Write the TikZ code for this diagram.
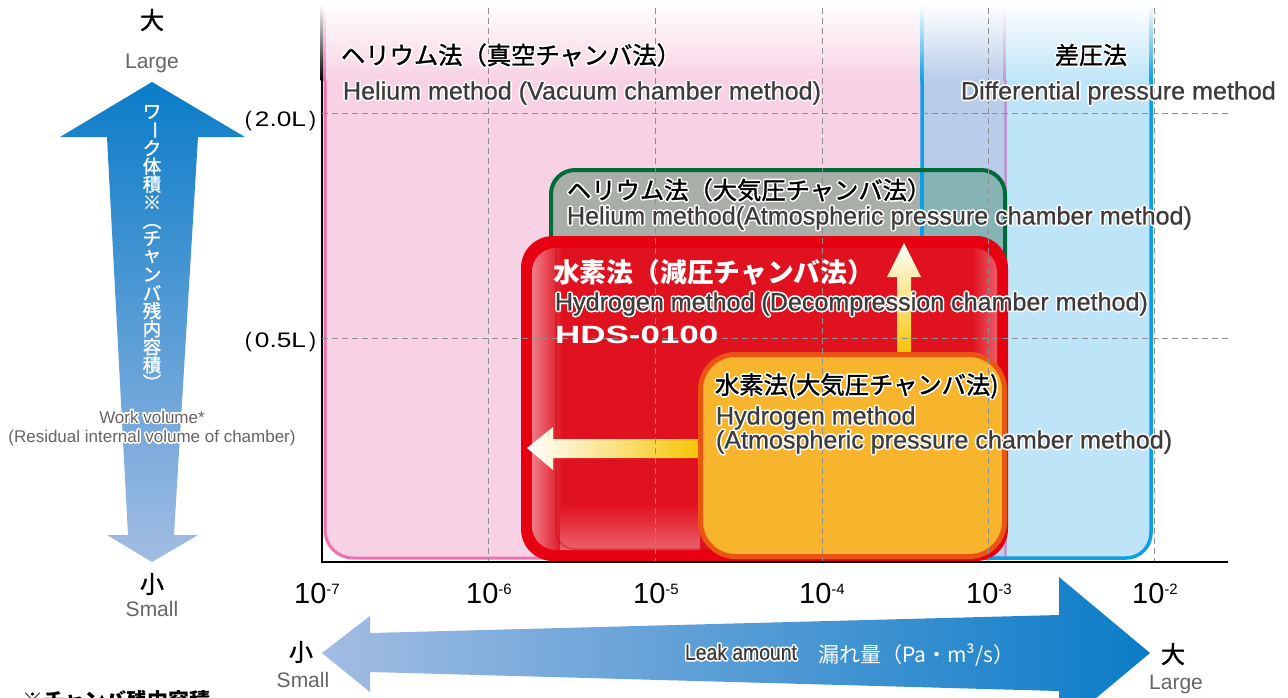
\documentclass[tikz,border=0pt]{standalone}
\usepackage{fontspec}
\usepackage{graphicx}
\setmainfont{Liberation Sans}
\newfontfamily\jp{Noto Sans CJK JP}
\newfontfamily\jpm{Noto Sans CJK JP}[FakeBold=1.4]
\newfontfamily\enm{Liberation Sans}[FakeBold=0.7]
\definecolor{pinkfill}{HTML}{F8D2E4}
\definecolor{pinkline}{HTML}{EF70AF}
\definecolor{bluefill}{HTML}{BEE5F7}
\definecolor{blueline}{HTML}{0AA0E6}
\definecolor{lavender}{HTML}{B9CDEA}
\definecolor{purpleline}{HTML}{BB9ACF}
\definecolor{greenline}{HTML}{006B3A}
\definecolor{greenfill}{HTML}{A9AEA9}
\definecolor{tealfill}{HTML}{86B3B4}
\definecolor{redborder}{HTML}{E60012}
\definecolor{redin}{HTML}{E0121F}
\definecolor{redglow}{HTML}{EF7C86}
\definecolor{reddark}{HTML}{B5101C}
\definecolor{orangeline}{HTML}{EA5514}
\definecolor{orangefill}{HTML}{F7B52D}
\definecolor{arrowyellow}{HTML}{F6C300}
\definecolor{arrowcream}{HTML}{FCEBB8}
\definecolor{tgray}{HTML}{3E3A39}
\definecolor{lgray}{HTML}{666464}
\definecolor{gridgray}{HTML}{8F8F8F}
\definecolor{arrdark}{HTML}{0A7CC8}
\definecolor{arrmid}{HTML}{3D9AD7}
\definecolor{arrlight}{HTML}{A3BCE3}
\newcommand\fs[1]{\fontsize{#1}{#1}\selectfont}
\newcommand\outl[1]{\leavevmode\rlap{\color{white}%
\rlap{\hspace*{1.6pt}#1}\rlap{\hspace*{-1.6pt}#1}%
\rlap{\raisebox{1.6pt}{#1}}\rlap{\raisebox{-1.6pt}{#1}}%
\rlap{\hspace*{1.15pt}\raisebox{1.15pt}{#1}}\rlap{\hspace*{-1.15pt}\raisebox{1.15pt}{#1}}%
\rlap{\hspace*{1.15pt}\raisebox{-1.15pt}{#1}}\rlap{\hspace*{-1.15pt}\raisebox{-1.15pt}{#1}}}#1}
\newcommand\vrot[1]{\rotatebox[origin=c]{-90}{#1}}
\newcommand\wide[1]{\scalebox{1.25}[1]{#1}}
\tikzset{
  lbl/.style={inner sep=0pt, outer sep=0pt},
  gridline/.style={gridgray, line width=1pt, dash pattern=on 6pt off 4pt},
  jtitle/.style={lbl, anchor=west, font=\jpm\fs{24.3}, text=black},
  entitle/.style={lbl, anchor=west, font=\enm\fs{25.1}, text=tgray},
  tick/.style={lbl, anchor=base, font=\fs{29}, text=black},
  ylab/.style={lbl, anchor=east, font=\fs{21}, text=black},
  vch/.style={lbl, font=\jpm\fs{18.5}, text=white},
}
\begin{document}
\begin{tikzpicture}[x=1pt,y=-1pt]
\useasboundingbox (0,0) rectangle (1288,697);
% ---- method regions
\fill[pinkfill, rounded corners=28] (325,-40) rectangle (1005,558);
\fill[bluefill, rounded corners=25] (922,-40) rectangle (1151,558);
\fill[lavender] (922,-40) rectangle (1005,558);
\draw[pinkline, line width=3, rounded corners=28] (325,-40) -- (325,558) -- (1005,558);
\draw[purpleline, line width=3] (1005,-40) -- (1005,558);
\draw[blueline, line width=3.5, rounded corners=25] (922,-40) -- (922,558) -- (1151,558) -- (1151,-40);
\draw[line width=2.5] (322,-5) -- (322,563);
% top fade to white
\foreach \xa/\xb/\col in {320.6/323.4/black, 323.4/326.6/pinkline, 326.6/920.2/pinkfill,
    920.2/923.8/blueline, 923.8/1003.5/lavender, 1003.5/1006.5/purpleline,
    1006.5/1149.2/bluefill, 1149.2/1152.8/blueline}
  \shade[top color=white, bottom color=\col] (\xa,4) rectangle (\xb,80);
\fill[white] (318,-2) rectangle (1156,4);
% ---- helium atmospheric (green)
\begin{scope}
  \clip[rounded corners=24] (551,170) rectangle (1005,420);
  \fill[greenfill] (551,170) rectangle (1005,420);
  \fill[tealfill] (922,170) rectangle (1005,420);
  \draw[blueline, line width=3.5] (922,170) -- (922,420);
\end{scope}
\draw[greenline, line width=4, rounded corners=24] (551,170) rectangle (1005,420);
% ---- hydrogen decompression (red)
\fill[redborder, rounded corners=32] (521,236) rectangle (1008,561);
\begin{scope}
  \clip[rounded corners=24] (532,248) rectangle (997,550);
  \fill[redin] (532,248) rectangle (997,550);
  \shade[left color=redglow, right color=redin] (532,248) rectangle (562,550);
  \shade[left color=redin, right color=redglow!70!redin] (972,248) rectangle (997,550);
  \shade[top color=redin, bottom color=redglow!75!redin] (560,505) rectangle (700,550);
  \draw[reddark, line width=1.5, opacity=.45, rounded corners=18] (556,230) -- (556,549) -- (1000,549);
\end{scope}
% ---- white/yellow arrows
\shade[left color=white, middle color=arrowcream, right color=arrowyellow]
  (527,448) -- (553,427) -- (553,439) -- (703,439) -- (703,458) -- (553,458) -- (553,470) -- cycle;
\shade[top color=white, middle color=arrowcream, bottom color=arrowyellow]
  (904,243) -- (921,277) -- (911,277) -- (911,356) -- (897,356) -- (897,277) -- (887,277) -- cycle;
% ---- hydrogen atmospheric (orange)
\draw[orangeline, fill=orangefill, line width=5, rounded corners=35] (700.5,354.5) rectangle (1004.5,556.5);
% ---- grid
\foreach \gx in {488,655,822,988,1154} \draw[gridline] (\gx,8) -- (\gx,561);
\draw[gridline] (322,113) -- (1228,113);
\draw[gridline] (322,338) -- (1228,338);
\draw[line width=2.5] (321,562) -- (1228,562);
% ---- region texts
\node[jtitle] (tvac) at (341,55) {\outl{ヘリウム法（真空チャンバ法）}};
\node[entitle] (evac) at (343,93) {\outl{Helium method (Vacuum chamber method)}};
\node[lbl, font=\jpm\fs{24}] (tdiff) at (1091,55) {\outl{差圧法}};
\node[entitle] (ediff) at (961,93) {\outl{Differential pressure method}};
\node[jtitle] (tgreen) at (567,190) {\outl{ヘリウム法（大気圧チャンバ法）}};
\node[entitle] (egreen) at (567,218) {\outl{Helium method(Atmospheric pressure chamber method)}};
\node[lbl, anchor=west, font=\jp\bfseries\fs{26.8}, text=white] (tred) at (553,272) {水素法（減圧チャンバ法）};
\node[entitle] (ered) at (555,304) {\outl{Hydrogen method (Decompression chamber method)}};
\node[lbl, anchor=west, font=\bfseries\fs{25}, text=white] (hds) at (555,335) {\scalebox{1.4}[1]{HDS-0100}};
\node[jtitle] (torange) at (715,386) {\outl{水素法(大気圧チャンバ法)}};
\node[entitle] (eorange1) at (716,418) {\outl{Hydrogen method}};
\node[entitle] (eorange2) at (716,442) {\outl{(Atmospheric pressure chamber method)}};
% ---- axis labels
\node[ylab] (y20) at (316,121) {(\hspace{3pt}\wide{2.0L}\hspace{3pt})};
\node[ylab] (y05) at (316,342) {(\hspace{3pt}\wide{0.5L}\hspace{3pt})};
\node[tick] (x7) at (317,603) {10\raisebox{9pt}{\fs{15}-7}};
\node[tick] (x6) at (489,603) {10\raisebox{9pt}{\fs{15}-6}};
\node[tick] (x5) at (656,603) {10\raisebox{9pt}{\fs{15}-5}};
\node[tick] (x4) at (822,603) {10\raisebox{9pt}{\fs{15}-4}};
\node[tick] (x3) at (989,603) {10\raisebox{9pt}{\fs{15}-3}};
\node[tick] (x2) at (1155,603) {10\raisebox{9pt}{\fs{15}-2}};
% ---- vertical arrow (work volume)
\shade[top color=arrdark, middle color=arrmid, bottom color=arrlight]
  (152,82) -- (245,137) -- (198,137) -- (174,535) -- (198,535) -- (152,562)
  -- (107,535) -- (128,535) -- (107,137) -- (60,137) -- cycle;
\foreach \c [count=\i] in {ワ,\vrot{ー},ク,体,積,※,\vrot{（},チ,ャ,ン,バ,残,内,容,積,\vrot{）}}
  \node[vch] (v\i) at (152,{93.9+18.07*\i}) {\c};
\node[lbl, font=\fs{17}, text=lgray] (wv1) at (152,417) {\outl{Work volume*}};
\node[lbl, font=\fs{17}, text=lgray] (wv2) at (152,438) {\outl{(Residual internal volume of chamber)}};
\node[lbl, font=\jpm\fs{24}] (vbig) at (152,20) {大};
\node[lbl, font=\fs{21}, text=lgray] (vlarge) at (152,63) {Large};
\node[lbl, font=\jpm\fs{24}] (vsmall) at (152,584) {小};
\node[lbl, font=\fs{21}, text=lgray] (vsmalle) at (152,609) {Small};
% ---- horizontal arrow (leak amount)
\shade[left color=arrlight, middle color=arrmid!80!arrlight, right color=arrdark]
  (322,653) -- (370,616) -- (370,633) -- (1059,615) -- (1059,577) -- (1150,653)
  -- (1059,729) -- (1059,691) -- (370,672) -- (370,692) -- cycle;
\node[lbl, anchor=west, text=tgray] (leak) at (685,652) {\outl{\scalebox{0.88}[1]{\enm\fs{22}Leak amount}}};
\node[lbl, anchor=west, font=\jp\fs{21}, text=white] (unit) at (818,655) {漏れ量（Pa・m³/s）};
\node[lbl, font=\jpm\fs{24}] (hsmall) at (301,652) {小};
\node[lbl, font=\fs{21}, text=lgray] (hsmalle) at (303,680) {Small};
\node[lbl, font=\jpm\fs{24}] (hbig) at (1173,654) {大};
\node[lbl, font=\fs{21}, text=lgray] (hlarge) at (1176,684) {Large};
% ---- footnote (cut off at the bottom)
\node[lbl, anchor=base west, font=\jp\bfseries\fs{21}] (note) at (22,708) {※チャンバ残内容積};
\end{tikzpicture}
\end{document}
